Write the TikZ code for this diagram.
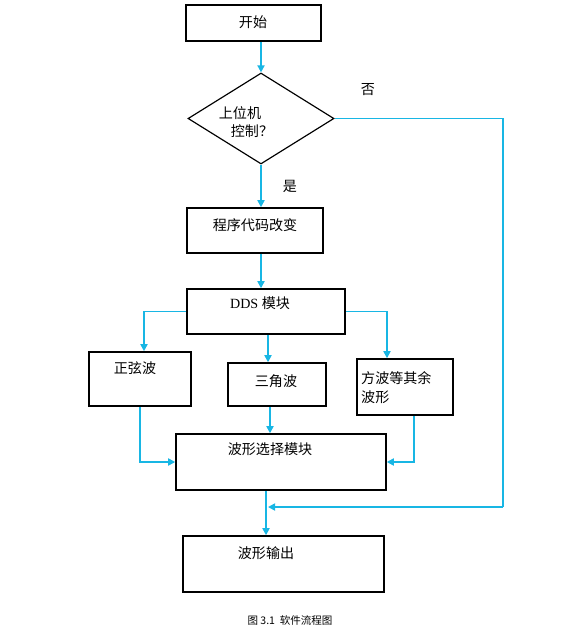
\documentclass[tikz,border=0pt]{standalone}
\usepackage{fontspec}
\setmainfont{Liberation Serif}
\newfontfamily\cjk{Noto Sans CJK SC}
\definecolor{flowline}{RGB}{24, 182, 228}
\usetikzlibrary{shapes.geometric, arrows.meta, positioning, calc}

\begin{document}
\begin{tikzpicture}[x=0.03cm, y=-0.03cm,
    box/.style={draw, line width=1.3pt, rectangle, inner sep=0pt},
    txt/.style={font=\cjk\fontsize{12}{16}\selectfont, inner sep=0pt},
    flow/.style={draw=flowline, line width=1.4pt, -{Triangle[length=6pt, width=6pt]}},
    link/.style={draw=flowline, line width=1.4pt}]
                \useasboundingbox (0,0) rectangle (579,637);

                % Boxes of the flow
                \node[box, minimum width=4.05cm, minimum height=1.08cm] (start) at (253.5,23) {};
                \node[box, diamond, line width=1pt, minimum width=4.38cm, minimum height=2.73cm] (dia) at (261,118.5) {};
                \node[box, minimum width=4.08cm, minimum height=1.35cm] (prog) at (255,230.5) {};
                \node[box, minimum width=4.74cm, minimum height=1.35cm] (dds) at (266,311.5) {};
                \node[box, minimum width=3.06cm, minimum height=1.62cm] (sine) at (140,379) {};
                \node[box, minimum width=2.94cm, minimum height=1.29cm] (tri) at (277,384.5) {};
                \node[box, minimum width=2.88cm, minimum height=1.68cm] (sq) at (405,387) {};
                \node[box, minimum width=6.30cm, minimum height=1.68cm] (sel) at (281,462) {};
                \node[box, minimum width=6.03cm, minimum height=1.68cm] (out) at (283.5,564) {};

                % Texts
                \node[txt] (startt) at (253,22) {开始};
                \node[txt] (diat1) at (240,113) {上位机};
                \node[txt] (diat2) at (252,131) {控制？};
                \node[txt] (no) at (368,90) {否};
                \node[txt] (yes) at (290,186) {是};
                \node[txt] (progt) at (255,225) {程序代码改变};
                \node[txt, font=\fontsize{12}{16}\selectfont] (ddst) at (260,303) {DDS {\cjk 模块}};
                \node[txt] (sinet) at (135,368) {正弦波};
                \node[txt] (trit) at (276,381) {三角波};
                \node[txt, align=left, anchor=west] (sqt) at (361,387.5) {方波等其余\\波形};
                \node[txt] (selt) at (270,449) {波形选择模块};
                \node[txt] (outt) at (266,553) {波形输出};
                \node[txt, font=\cjk\fontsize{9}{10}\selectfont] (cap) at (290,620) {图 3.1 \ 软件流程图};

                % Connectors
                \coordinate (fb) at (503,507);
                \coordinate (join) at (268,507);
                \draw[flow] (start.south -| dia.north) -- (dia.north);
                \draw[flow] (dia.south) -- (dia.south |- prog.north);
                \draw[flow] (prog.south -| dia.south) -- (dds.north -| dia.south);
                \draw[flow] (dds.west) -| ([xshift=0.12cm]sine.north);
                \draw[flow] ([xshift=0.06cm]dds.south) -- ([xshift=0.06cm]dds.south |- tri.north);
                \draw[flow] (dds.east) -| ([xshift=-0.54cm]sq.north);
                \draw[flow] (sine.south) |- (sel.west);
                \draw[flow] ([xshift=-0.21cm]tri.south) -- ([xshift=-0.21cm]tri.south |- sel.north);
                \draw[flow] ([xshift=0.27cm]sq.south) |- (sel.east);
                \draw[flow] ([xshift=-0.45cm]sel.south) -- ([xshift=-0.45cm]sel.south |- out.north);
                \draw[link] (dia.east) -| (fb);
                \draw[flow] (fb) -- (join);
            \end{tikzpicture}
\end{document}
